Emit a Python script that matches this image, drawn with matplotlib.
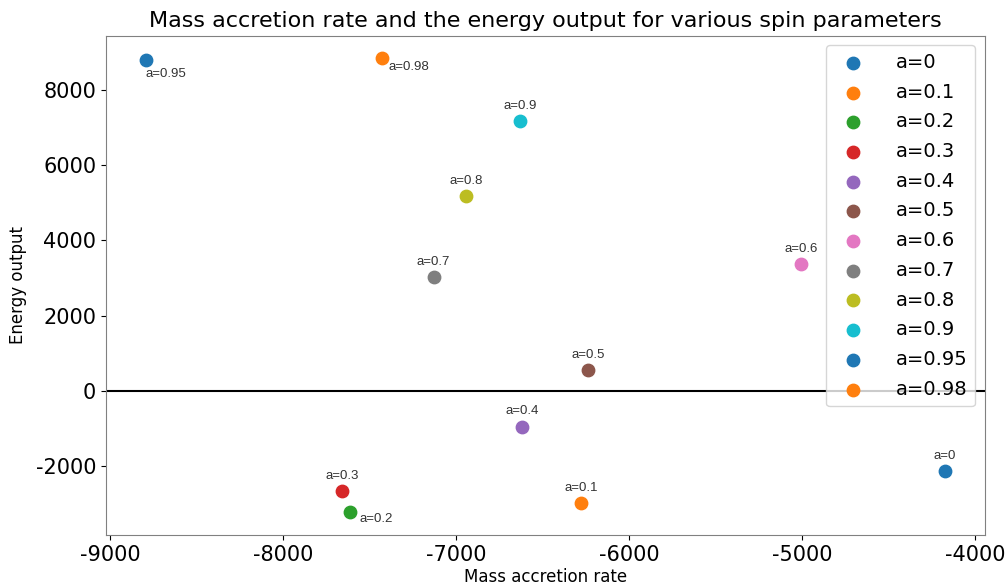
import matplotlib
matplotlib.use("Agg")
import matplotlib.pyplot as plt

plt.rcParams["axes.unicode_minus"] = False

# Spin parameters with their mass accretion rate and energy output
spins = ["0", "0.1", "0.2", "0.3", "0.4", "0.5", "0.6", "0.7", "0.8", "0.9", "0.95", "0.98"]
mass_accretion = [-4173, -6277, -7613, -7659, -6620, -6235, -5006, -7131, -6944, -6630, -8794, -7430]
energy_output = [-2141, -2992, -3231, -2673, -952, 545, 3364, 3019, 5181, 7176, 8798, 8843]

# Label placement (offset in points, horizontal alignment) for each dot
default_offset = ((0, 11), "center")
label_offsets = {
    "0.2": ((7, -5), "left"),
    "0.95": ((0, -10), "left"),
    "0.98": ((4.5, -6.5), "left"),
}

colors = ["#1f77b4", "#ff7f0e", "#2ca02c", "#d62728", "#9467bd", "#8c564b",
          "#e377c2", "#7f7f7f", "#bcbd22", "#17becf", "#1f77b4", "#ff7f0e"]

fig = plt.figure(figsize=(10.08, 5.87), dpi=100)
ax = fig.add_axes([106 / 1008, 1 - 535 / 587, (985 - 106) / 1008, (535 - 35.5) / 587])

for spin, x, y, c in zip(spins, mass_accretion, energy_output, colors):
    ax.scatter(x, y, s=80, color=c, label=f"a={spin}", zorder=3)
    offset, ha = label_offsets.get(spin, default_offset)
    ax.annotate(f"a={spin}", (x, y), xytext=offset, textcoords="offset points",
                ha=ha, va="center", fontsize=9.5, color="#333333",
                family="Liberation Sans")

ax.axhline(0, color="black", lw=1.5, zorder=1)

ax.set_title("Mass accretion rate and the energy output for various spin parameters", fontsize=16)
ax.set_xlabel("Mass accretion rate", fontsize=12, labelpad=2)
ax.set_ylabel("Energy output", fontsize=12, labelpad=6)
ax.tick_params(axis="both", labelsize=15)
ax.set_xticks([-9000, -8000, -7000, -6000, -5000, -4000])
ax.set_yticks([-2000, 0, 2000, 4000, 6000, 8000])

for sp in ax.spines.values():
    sp.set_color("#808080")

ax.legend(loc="upper right", fontsize=14, handletextpad=1.2, labelspacing=0.55)

fig.savefig("out.png", dpi=100)
